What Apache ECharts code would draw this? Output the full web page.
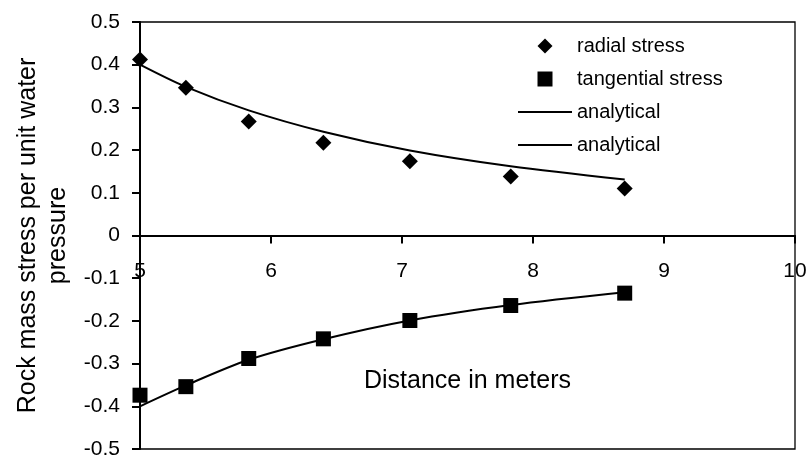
<!DOCTYPE html>
<html>
<head>
<meta charset="utf-8">
<script src="https://cdn.jsdelivr.net/npm/echarts@6/dist/echarts.min.js"></script>
<style>
  html, body { margin: 0; padding: 0; background: #fff; }
  #chart { width: 809px; height: 462px; }
</style>
</head>
<body>
<div id="chart"></div>
<script>
// Distances (m) of the sample points
const distances = [5, 5.35, 5.83, 6.4, 7.06, 7.83, 8.7];
// Measured / numerical values
const radialStress = [0.412, 0.346, 0.267, 0.217, 0.174, 0.138, 0.110];
const tangentialStress = [-0.374, -0.354, -0.288, -0.242, -0.199, -0.164, -0.135];
// Analytical curves
const analyticalRadial = [0.400, 0.348, 0.293, 0.243, 0.199, 0.162, 0.131];
const analyticalTangential = [-0.400, -0.351, -0.291, -0.243, -0.199, -0.163, -0.133];

// Axis ranges
const xRange = [5, 10];
const yRange = [-0.5, 0.5];

const FONT = 'Liberation Sans, Arial, sans-serif';
const pair = (xs, ys) => xs.map((x, i) => [x, ys[i]]);

const DIAMOND_ICON = 'path://M0,-1 L1,0 L0,1 L-1,0 Z';
const SQUARE_ICON = 'path://M0,0 L1,0 L1,1 L0,1 Z';
const LINE_ICON = 'path://M0,0 L0,0 Z M0,6 L54,6 L54,8 L0,8 Z M54,14 L54,14 Z';

const GRID_TOP = 22, GRID_BOTTOM = 13, H = 462;
const plotH = H - GRID_TOP - GRID_BOTTOM;
const zeroOffset = -plotH / 2; // y range is symmetric: move x axis to y = 0

const chart = echarts.init(document.getElementById('chart'), null, { renderer: 'canvas' });
chart.setOption({
  animation: false,
  backgroundColor: '#fff',
  textStyle: { fontFamily: FONT, color: '#000' },
  grid: {
    left: 140, top: GRID_TOP, right: 14, bottom: GRID_BOTTOM,
    outerBoundsMode: 'none',
    containLabel: false,
    show: true,
    backgroundColor: 'rgba(0,0,0,0)',
    borderColor: '#000',
    borderWidth: 1.3
  },
  legend: {
    orient: 'vertical',
    left: 513, top: 31,
    itemWidth: 54, itemHeight: 15, itemGap: 13,
    symbolKeepAspect: true,
    textStyle: { fontSize: 20, fontFamily: FONT, color: '#000' },
    data: [
      { name: 'radial stress', icon: DIAMOND_ICON },
      { name: 'tangential stress', icon: SQUARE_ICON },
      { name: 'analytical_r', icon: LINE_ICON },
      { name: 'analytical_t', icon: LINE_ICON }
    ],
    formatter: n => (n.indexOf('analytical') === 0 ? 'analytical' : n)
  },
  xAxis: {
    type: 'value',
    min: xRange[0], max: xRange[1], interval: 1,
    position: 'bottom',
    offset: zeroOffset,
    name: 'Distance in meters',
    nameLocation: 'middle',
    nameGap: 133,
    nameTextStyle: { fontSize: 25, fontFamily: FONT, color: '#000' },
    axisLine: { onZero: false, lineStyle: { color: '#000', width: 2 } },
    axisTick: { show: true, length: 8, lineStyle: { color: '#000', width: 2 } },
    axisLabel: { fontSize: 21, fontFamily: FONT, color: '#000', margin: 25 },
    splitLine: { show: false }
  },
  yAxis: {
    type: 'value',
    min: yRange[0], max: yRange[1], interval: 0.1,
    position: 'left',
    name: 'Rock mass stress per unit water\npressure',
    nameLocation: 'middle',
    nameRotate: 90,
    nameGap: 67,
    nameTextStyle: { fontSize: 25, fontFamily: FONT, color: '#000', lineHeight: 30, align: 'center' },
    axisLine: { show: true, onZero: false, lineStyle: { color: '#000', width: 2 } },
    axisTick: { show: true, length: 8, lineStyle: { color: '#000', width: 2 } },
    axisLabel: {
      fontSize: 21, fontFamily: FONT, color: '#000', margin: 20,
      formatter: v => (Math.abs(v) < 1e-9 ? '0' : v.toFixed(1))
    },
    splitLine: { show: false }
  },
  series: [
    {
      name: 'analytical_r', type: 'line', smooth: 0.3,
      data: pair(distances, analyticalRadial),
      symbol: 'none', showSymbol: false,
      lineStyle: { color: '#000', width: 2 },
      itemStyle: { color: '#000' }, z: 2
    },
    {
      name: 'analytical_t', type: 'line', smooth: 0.3,
      data: pair(distances, analyticalTangential),
      symbol: 'none', showSymbol: false,
      lineStyle: { color: '#000', width: 2 },
      itemStyle: { color: '#000' }, z: 2
    },
    {
      name: 'radial stress', type: 'scatter',
      data: pair(distances, radialStress),
      symbol: 'diamond', symbolSize: 16,
      itemStyle: { color: '#000', opacity: 1 }, z: 5
    },
    {
      name: 'tangential stress', type: 'scatter',
      data: pair(distances, tangentialStress),
      symbol: 'rect', symbolSize: 15,
      itemStyle: { color: '#000', opacity: 1 }, z: 5
    }
  ]
});
</script>
</body>
</html>
